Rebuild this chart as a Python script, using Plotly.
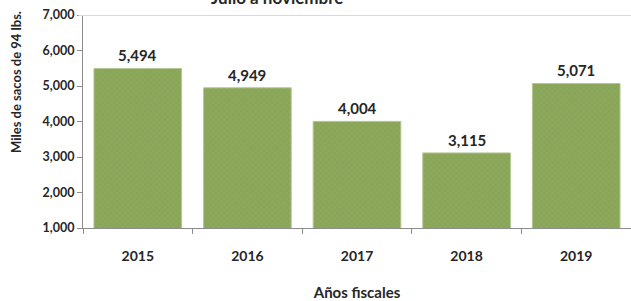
import plotly.graph_objects as go

years = ["2015", "2016", "2017", "2018", "2019"]
values = [5494, 4949, 4004, 3115, 5071]
value_labels = ["5,494", "4,949", "4,004", "3,115", "5,071"]
y_ticks = [1000, 2000, 3000, 4000, 5000, 6000, 7000]
y_tick_labels = ["1,000", "2,000", "3,000", "4,000", "5,000", "6,000", "7,000"]

FONT = "Lato"
TXT = "#262626"
PLOT_L, PLOT_T, PLOT_B = 83, 15, 228
W, H = 631, 301
PW = W - PLOT_L
PH = PLOT_B - PLOT_T

fig = go.Figure()
fig.add_trace(go.Bar(
    x=years, y=values,
    marker=dict(color="#8ca85b",
                line=dict(color="#b3c893", width=1),
                pattern=dict(shape="x", size=4, solidity=0.15,
                             fgcolor="#7a954e", bgcolor="#8ca85b")),
    cliponaxis=False,
))

# value labels placed on the category positions of the bars
annotations = [
    dict(x=i, y=v, text=lab, xref="x", yref="y", xanchor="center", yanchor="bottom",
         yshift=2, showarrow=False,
         font=dict(family=FONT, size=15, color=TXT, weight="bold"))
    for i, (v, lab) in enumerate(zip(values, value_labels))
]
annotations += [
    dict(text="Julio a noviembre", xref="paper", yref="paper",
         x=(277 - PLOT_L) / PW, y=1 + 5 / PH, xanchor="center", yanchor="bottom",
         showarrow=False,
         font=dict(family=FONT, size=17, color=TXT, weight="bold")),
    dict(text="Miles de sacos de 94 lbs.", xref="paper", yref="paper",
         x=(16 - PLOT_L) / PW, y=(PLOT_B - 82) / PH, xanchor="center", yanchor="middle",
         textangle=-90, showarrow=False,
         font=dict(family=FONT, size=13, color=TXT, weight="bold")),
]

fig.update_layout(
    width=W, height=H,
    margin=dict(l=PLOT_L, r=0, t=PLOT_T, b=H - PLOT_B),
    paper_bgcolor="white", plot_bgcolor="white",
    bargap=0.2, showlegend=False,
    font=dict(family=FONT, color=TXT),
    xaxis=dict(type="category", categoryorder="array", categoryarray=years,
               range=[-0.5, len(years) - 0.5],
               showline=True, linecolor="#8c8c8c", linewidth=1,
               ticks="outside", ticklen=5, tickcolor="#8c8c8c",
               tickson="boundaries", ticklabelstandoff=15,
               tickfont=dict(family=FONT, size=14, color=TXT, weight="bold"),
               title=dict(text="Años fiscales", standoff=25,
                          font=dict(family=FONT, size=15, color=TXT, weight="bold"))),
    yaxis=dict(range=[1000, 7000], tickvals=y_ticks, ticktext=y_tick_labels,
               showline=True, linecolor="#8c8c8c", linewidth=1,
               ticks="outside", ticklen=5, tickcolor="#8c8c8c",
               showgrid=False, zeroline=False,
               tickfont=dict(family=FONT, size=12.5, color=TXT, weight="bold")),
    shapes=[dict(type="line", xref="paper", yref="y", x0=-0.008, x1=1,
                 y0=7000, y1=7000, line=dict(color="#d9d9d9", width=2))],
    annotations=annotations,
)

fig.write_html("out.html", config={"displayModeBar": False},
               post_script="document.body.style.margin='0';document.body.style.overflow='hidden';")
